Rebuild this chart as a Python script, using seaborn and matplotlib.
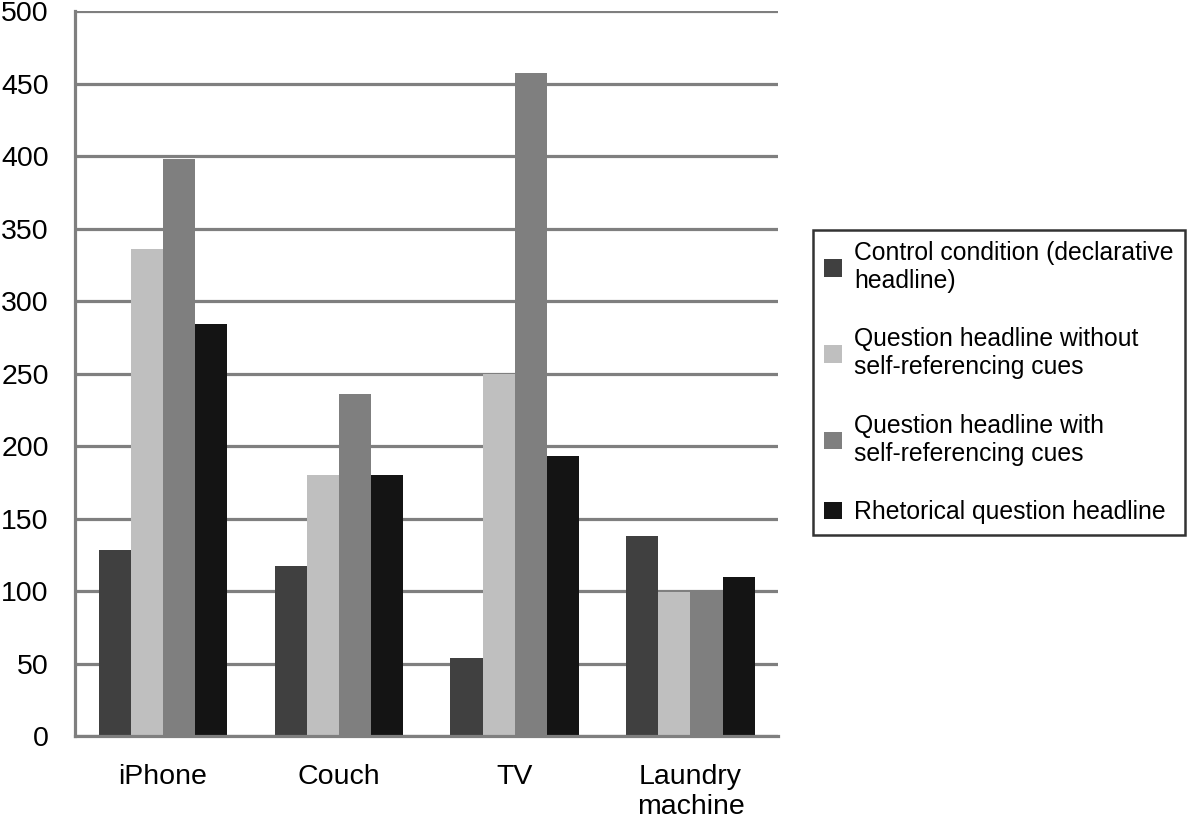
import matplotlib
matplotlib.use("Agg")
import matplotlib.pyplot as plt
import seaborn as sns
import pandas as pd

sns.set_style("white")
plt.rcParams['font.family'] = ['Liberation Sans', 'DejaVu Sans']
plt.rcParams['text.color'] = 'black'
plt.rcParams['xtick.color'] = 'black'
plt.rcParams['ytick.color'] = 'black'

productos = ["iPhone", "Couch", "TV", "Laundry\nmachine"]
condiciones = [
    "Control condition (declarative\nheadline)",
    "Question headline without\nself-referencing cues",
    "Question headline with\nself-referencing cues",
    "Rhetorical question headline",
]
control = [128, 117, 54, 138]
sin_auto = [336, 180, 250, 99]
con_auto = [398, 236, 457, 101]
retorica = [284, 180, 193, 110]
colores = ["#404040", "#bfbfbf", "#7f7f7f", "#141414"]

filas = []
for cond, valores in zip(condiciones, [control, sin_auto, con_auto, retorica]):
    for prod, v in zip(productos, valores):
        filas.append({"producto": prod, "condicion": cond, "valor": v})
df = pd.DataFrame(filas)

fig = plt.figure(figsize=(11.92, 8.21), dpi=100)
ax = fig.add_axes([0.063, 0.1035, 0.59, 0.883])

sns.barplot(data=df, x="producto", y="valor", hue="condicion",
            hue_order=condiciones, order=productos, palette=colores,
            width=0.73, saturation=1, linewidth=0, ax=ax, legend=True)

gris = "#7f7f7f"
ax.set_ylim(0, 500)
ax.set_xlim(-0.5, 3.5)
ax.set_yticks(range(0, 501, 50))
ax.yaxis.grid(True, color=gris, linewidth=2.3)
ax.set_axisbelow(True)
ax.set_xlabel("")
ax.set_ylabel("")
for lado in ["top", "right"]:
    ax.spines[lado].set_visible(False)
for lado in ["left", "bottom"]:
    ax.spines[lado].set_color(gris)
    ax.spines[lado].set_linewidth(2.3)

ax.tick_params(axis="y", length=7, width=2.3, color=gris, labelcolor="black",
               labelsize=20.5, pad=12)
ax.tick_params(axis="x", which="major", length=0, labelsize=20.5,
               labelcolor="black", pad=20)
for etiqueta in ax.get_xticklabels():
    etiqueta.set_linespacing(1.2)
ax.set_xticks([-0.5, 0.5, 1.5, 2.5, 3.5], minor=True)
ax.tick_params(axis="x", which="minor", length=8, width=2.3, color=gris)

handles, labels = ax.get_legend_handles_labels()
ax.get_legend().remove()
leg = fig.legend(handles, labels, loc="center left",
                 bbox_to_anchor=(0.682, 0.534), frameon=True, fancybox=False,
                 fontsize=17.8, handlelength=0.72, handleheight=0.72,
                 labelspacing=1.4, borderpad=0.45, handletextpad=0.5,
                 borderaxespad=0)
leg.get_frame().set_edgecolor("black")
leg.get_frame().set_linewidth(1.8)

fig.savefig("out.png", dpi=100)
